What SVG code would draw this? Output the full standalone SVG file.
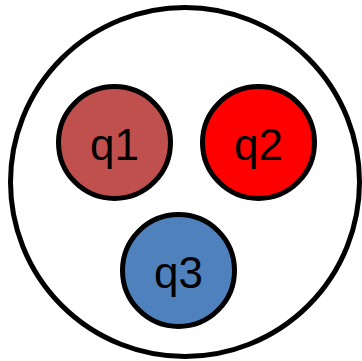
<svg xmlns="http://www.w3.org/2000/svg" width="362" height="361" viewBox="0 0 362 361">
<style>
.n{stroke:#000;stroke-width:5}
.t{font-family:"Comic Sans MS","Liberation Sans",sans-serif;font-size:44px;text-anchor:middle;fill:#000}
</style>
<rect width="362" height="361" fill="#fff"/>
<g id="outer"><ellipse cx="185" cy="182" rx="174.5" ry="174.5" fill="#fff" class="n"/></g>
<g id="connectors"></g>
<g id="q1"><circle cx="114.5" cy="142.5" r="56" fill="#C0504D" class="n"/><text x="114.5" y="160" class="t">q1</text></g>
<g id="q2"><circle cx="258.5" cy="142.5" r="56" fill="#FF0000" class="n"/><text x="258.5" y="160" class="t">q2</text></g>
<g id="q3"><circle cx="178.5" cy="270.5" r="56" fill="#4F81BD" class="n"/><text x="178.5" y="288" class="t">q3</text></g>
</svg>
